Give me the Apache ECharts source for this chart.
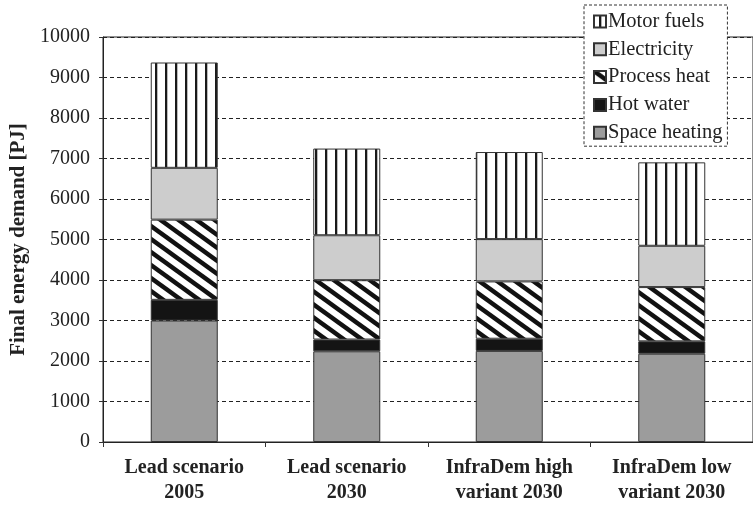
<!DOCTYPE html>
<html>
<head>
<meta charset="utf-8">
<script src="https://cdn.jsdelivr.net/npm/echarts@6/dist/echarts.min.js"></script>
<style>html,body{margin:0;padding:0;background:#fff}#c{width:753px;height:505px}</style>
</head>
<body>
<div id="c"></div>
<script>
// ---- data ----
const categories = ['Lead scenario\n2005', 'Lead scenario\n2030', 'InfraDem high\nvariant 2030', 'InfraDem low\nvariant 2030'];
const spaceHeating = [3000, 2240, 2250, 2180];
const hotWater = [510, 290, 300, 305];
const processHeat = [1980, 1465, 1415, 1340];
const electricity = [1280, 1110, 1045, 1020];
const motorFuels = [2600, 2140, 2150, 2060];
const yTicks = [0, 1000, 2000, 3000, 4000, 5000, 6000, 7000, 8000, 9000, 10000];

// ---- patterns ----
function vStripes() {
  const c = document.createElement('canvas');
  c.width = 10; c.height = 10;
  const g = c.getContext('2d');
  g.fillStyle = '#fff'; g.fillRect(0, 0, 10, 10);
  g.fillStyle = '#1a1a1a'; g.fillRect(5, 0, 2, 10);
  g.fillStyle = '#bbb'; g.fillRect(7, 0, 1, 10);
  return c;
}
function dStripes() {
  const W = 18, H = 13;
  const c = document.createElement('canvas');
  c.width = W; c.height = H;
  const g = c.getContext('2d');
  g.fillStyle = '#fff'; g.fillRect(0, 0, W, H);
  g.strokeStyle = '#111'; g.lineWidth = 4.5;
  for (const off of [-W, 0, W]) {
    g.beginPath();
    g.moveTo(off - W, -H);
    g.lineTo(off + 2 * W, 2 * H);
    g.stroke();
  }
  return c;
}

const serif = '"Liberation Serif", "DejaVu Serif", serif';
const chart = echarts.init(document.getElementById('c'), null, { renderer: 'canvas' });

function bar(name, data, color) {
  return {
    name, type: 'bar', stack: 'total', data, barWidth: 67,
    itemStyle: { color, borderColor: '#333', borderWidth: 1 },
    emphasis: { disabled: true }, animation: false
  };
}

chart.setOption({
  animation: false,
  textStyle: { fontFamily: serif },
  grid: { left: 100, right: -7, top: 37, bottom: 63, show: true, borderColor: '#222', borderWidth: 1, backgroundColor: 'transparent' },
  legend: {
    orient: 'vertical', left: 584, top: 5,
    padding: [6, 5, 3, 9],
    icon: 'rect',
    itemWidth: 12, itemHeight: 12, itemGap: 6.8,
    backgroundColor: '#fff', borderColor: '#333', borderWidth: 1, borderType: [3, 2],
    textStyle: { fontFamily: serif, fontSize: 20.5, color: '#222', lineHeight: 20, padding: [0, 0, 0, -3] },
    data: ['Motor fuels', 'Electricity', 'Process heat', 'Hot water', 'Space heating'],
    z: 10
  },
  xAxis: {
    type: 'category', data: categories,
    axisLine: { lineStyle: { color: '#222', width: 1 } },
    axisTick: { show: true, length: 5, lineStyle: { color: '#333' } },
    axisLabel: { fontFamily: serif, fontWeight: 'bold', fontSize: 20, lineHeight: 25, color: '#222', margin: 13, interval: 0 }
  },
  yAxis: {
    type: 'value', min: yTicks[0], max: yTicks[yTicks.length - 1], interval: 1000,
    name: 'Final energy demand [PJ]', nameLocation: 'middle', nameGap: 74,
    nameTextStyle: { fontFamily: serif, fontWeight: 'bold', fontSize: 21, color: '#222' },
    axisLine: { show: true, lineStyle: { color: '#222', width: 1 } },
    axisTick: { show: true, length: 4, lineStyle: { color: '#333' } },
    axisLabel: { fontFamily: serif, fontSize: 20, color: '#222', margin: 13, formatter: v => String(v) },
    splitLine: { show: true, lineStyle: { color: '#222', type: [4, 3], width: 1 } }
  },
  series: [
    bar('Space heating', spaceHeating, '#9c9c9c'),
    bar('Hot water', hotWater, '#141414'),
    bar('Process heat', processHeat, { image: dStripes(), repeat: 'repeat' }),
    bar('Electricity', electricity, '#cdcdcd'),
    bar('Motor fuels', motorFuels, { image: vStripes(), repeat: 'repeat' })
  ]
});
</script>
</body>
</html>
